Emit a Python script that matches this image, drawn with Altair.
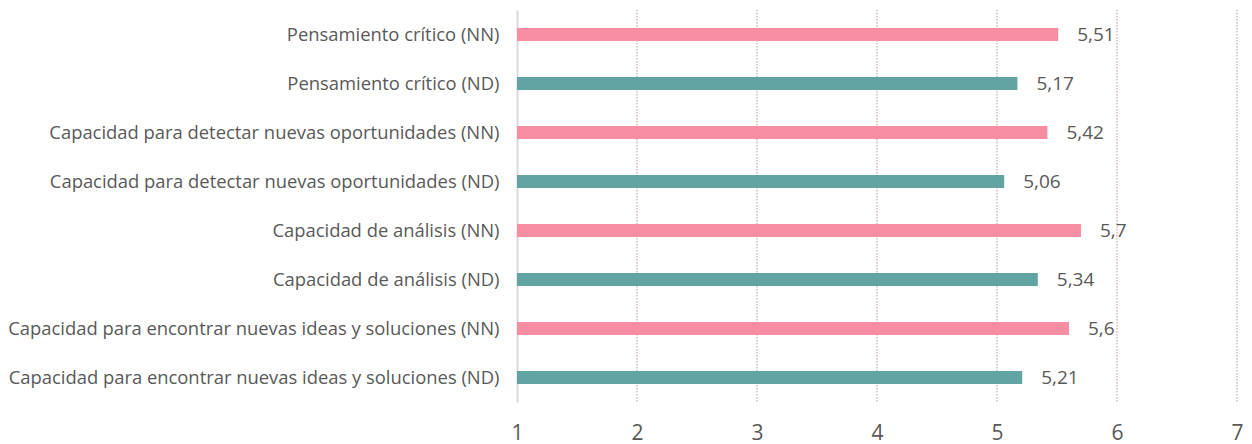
import altair as alt
import pandas as pd

categories = [
    "Pensamiento crítico (NN)",
    "Pensamiento crítico (ND)",
    "Capacidad para detectar nuevas oportunidades (NN)",
    "Capacidad para detectar nuevas oportunidades (ND)",
    "Capacidad de análisis (NN)",
    "Capacidad de análisis (ND)",
    "Capacidad para encontrar nuevas ideas y soluciones (NN)",
    "Capacidad para encontrar nuevas ideas y soluciones (ND)",
]
values = [5.51, 5.17, 5.42, 5.06, 5.70, 5.34, 5.60, 5.21]
groups = ["NN", "ND", "NN", "ND", "NN", "ND", "NN", "ND"]
value_labels = ["5,51", "5,17", "5,42", "5,06", "5,7", "5,34", "5,6", "5,21"]
tick_values = [1, 2, 3, 4, 5, 6, 7]
grid_values = [2, 3, 4, 5, 6, 7]

df = pd.DataFrame({"cat": categories, "val": values, "grp": groups, "lab": value_labels})
grid_df = pd.DataFrame({"g": grid_values})

FONT = "Open Sans"
GRAY = "#595959"

xscale = alt.Scale(domain=[1, 7], nice=False, zero=False)
yscale = alt.Scale(domain=categories, paddingInner=0.73, paddingOuter=0.365)

xaxis = alt.Axis(
    values=tick_values, format="d", title=None, grid=False, domain=False, ticks=False,
    labelFontSize=21, labelColor=GRAY, labelFont=FONT, labelPadding=20, labelFlush=False,
)
yaxis = alt.Axis(
    title=None, ticks=False, grid=False, domainColor="#D9D9D9", domainWidth=2,
    labelFontSize=18.4, labelColor=GRAY, labelFont=FONT, labelPadding=18,
    labelLimit=700,
)

grid = alt.Chart(grid_df).mark_rule(color="#C4A8A5", strokeDash=[1.5, 1.5], strokeWidth=1.2).encode(
    x=alt.X("g:Q", scale=xscale, axis=xaxis)
)

bars = alt.Chart(df).mark_bar().encode(
    x=alt.X("val:Q", scale=xscale, axis=xaxis),
    x2=alt.datum(1),
    y=alt.Y("cat:N", scale=yscale, sort=categories, axis=yaxis),
    color=alt.Color(
        "grp:N",
        scale=alt.Scale(domain=["NN", "ND"], range=["#F78DA3", "#62A3A4"]),
        legend=None,
    ),
)

text = alt.Chart(df).mark_text(align="left", baseline="middle", dx=19, fontSize=19, color=GRAY, font=FONT).encode(
    x=alt.X("val:Q", scale=xscale, axis=xaxis),
    y=alt.Y("cat:N", scale=yscale, sort=categories, axis=yaxis),
    text="lab:N",
)

chart = alt.layer(grid, bars, text).properties(
    width=720, height=392,
    autosize=alt.AutoSizeParams(type="none"),
    padding={"left": 509, "top": 2, "right": 7, "bottom": 42},
    background="white",
).configure_view(strokeWidth=0)

chart.save("out.html", embed_options={"renderer": "svg", "actions": False})
